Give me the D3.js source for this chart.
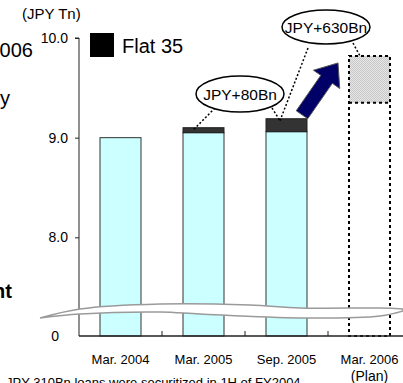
<!DOCTYPE html>
<html>
<head>
<meta charset="utf-8">
<script src="https://cdn.jsdelivr.net/npm/d3@7"></script>
<style>
  body { margin: 0; background: #fff; }
  svg { display: block; font-family: "Liberation Sans", Arial, sans-serif; }
</style>
</head>
<body>
<div id="chart"></div>
<script>
// data (JPY Tn)
const categories = ["Mar. 2004", "Mar. 2005", "Sep. 2005", "Mar. 2006"];
const baseValues = [9.0, 9.05, 9.06, 9.35];
const flat35Values = [0, 0.05, 0.13, 0.47];
const yTicks = [8, 9, 10];
const planIndex = 3;
const diffLabels = ["JPY+80Bn", "JPY+630Bn"];

const W = 403, H = 383;
const svg = d3.select("#chart").append("svg").attr("width", W).attr("height", H);

// axis scales (broken axis: the baseline "0" sits where 7.0 would be)
const x = d3.scaleBand().domain(categories).range([79, 411]).padding(0);
const y = d3.scaleLinear().domain([7, 10]).range([337, 38]);
const baseY = y(7) - 1;
const bw = 41;
const bx = d => x(d) + (x.bandwidth() - bw) / 2;

const data = categories.map((c, i) => ({
  cat: c, base: baseValues[i], flat: flat35Values[i], total: baseValues[i] + flat35Values[i]
}));

// pattern for the plan part
const defs = svg.append("defs");
const pat = defs.append("pattern").attr("id", "stip").attr("width", 2).attr("height", 2)
  .attr("patternUnits", "userSpaceOnUse");
pat.append("rect").attr("width", 2).attr("height", 2).attr("fill", "#e6e6e6");
pat.append("rect").attr("width", 1).attr("height", 1).attr("fill", "#c8c8c8");
pat.append("rect").attr("x", 1).attr("y", 1).attr("width", 1).attr("height", 1).attr("fill", "#c8c8c8");

// actual bars
const actual = data.filter((d, i) => i !== planIndex);
svg.selectAll(".bar-base").data(actual).join("rect")
  .attr("x", d => bx(d.cat)).attr("y", d => y(d.base))
  .attr("width", bw).attr("height", d => baseY - y(d.base))
  .attr("fill", "#ccffff").attr("stroke", "#333").attr("stroke-width", 1);
svg.selectAll(".bar-flat").data(actual.filter(d => d.flat > 0)).join("rect")
  .attr("x", d => bx(d.cat)).attr("y", d => y(d.total))
  .attr("width", bw).attr("height", d => y(d.base) - y(d.total))
  .attr("fill", "#333").attr("stroke", "#222").attr("stroke-width", 1);

// plan bar (dashed outline)
const p = data[planIndex];
svg.append("rect").attr("x", bx(p.cat)).attr("y", y(p.total))
  .attr("width", bw).attr("height", y(p.base) - y(p.total))
  .attr("fill", "url(#stip)");
svg.append("rect").attr("x", bx(p.cat)).attr("y", y(p.total))
  .attr("width", bw).attr("height", baseY - y(p.total))
  .attr("fill", "none").attr("stroke", "#000").attr("stroke-width", 2).attr("stroke-dasharray", "3,3");
svg.append("line").attr("x1", bx(p.cat)).attr("x2", bx(p.cat) + bw)
  .attr("y1", y(p.base)).attr("y2", y(p.base))
  .attr("stroke", "#000").attr("stroke-width", 2).attr("stroke-dasharray", "3,3");

// y axis
const yAxis = svg.append("g").attr("transform", "translate(79,0)")
  .call(d3.axisLeft(y).tickValues(yTicks).tickFormat(d3.format(".1f")).tickSize(4).tickPadding(7));
yAxis.select(".domain").attr("d", `M-4,${y(10)}H0V${baseY}`).attr("stroke", "#222");
yAxis.selectAll("text").style("font-size", "14px").attr("fill", "#000");
yAxis.selectAll(".tick line").attr("stroke", "#222");
svg.append("text").attr("x", 59).attr("y", baseY).attr("dy", "0.38em")
  .attr("text-anchor", "end").style("font-size", "14px").text("0");
svg.append("text").attr("x", 22).attr("y", 19).style("font-size", "15px").text("(JPY Tn)");

// x axis
svg.append("line").attr("x1", 79).attr("x2", W).attr("y1", baseY).attr("y2", baseY)
  .attr("stroke", "#222").attr("stroke-width", 1.5);
svg.selectAll(".xtick").data(categories.slice(0, -1)).join("line")
  .attr("x1", d => x(d) + x.step()).attr("x2", d => x(d) + x.step())
  .attr("y1", baseY).attr("y2", baseY - 5).attr("stroke", "#222");
svg.selectAll(".xlab").data(categories).join("text")
  .attr("x", d => x(d) + x.bandwidth() / 2).attr("y", 364)
  .attr("text-anchor", "middle").style("font-size", "13px").text(d => d);
svg.append("text").attr("x", x(p.cat) + x.bandwidth() / 2).attr("y", 381)
  .attr("text-anchor", "middle").style("font-size", "14px").text("(Plan)");

// axis break
const upper = [[40, 318], [80, 309], [160, 304], [250, 305], [300, 308], [380, 308], [403, 309]];
const lower = [[403, 311], [380, 316], [300, 318], [200, 314], [160, 312], [80, 314], [40, 318]];
const brk = d3.line().curve(d3.curveCatmullRom);
svg.append("path").attr("d", brk(upper) + "L" + brk(lower).slice(1) + "Z")
  .attr("fill", "#fff").attr("stroke", "#9a9a9a").attr("stroke-width", 1.5);

// legend
svg.append("rect").attr("x", 90).attr("y", 33).attr("width", 24).attr("height", 24).attr("fill", "#000");
svg.append("text").attr("x", 122).attr("y", 53).style("font-size", "20px").text("Flat 35");

// leader lines
const b2 = data[1], b3 = data[2];
const capMid = d => (y(d.base) + y(d.total)) / 2;
const leaders = [
  [[215, 108], [bx(b2.cat) + 10, capMid(b2)]],
  [[272, 108], [bx(b3.cat) + 14, y(b3.total) + 2]],
  [[308, 48], [bx(b3.cat) + 14, y(b3.total) + 2]],
  [[353, 43], [bx(p.cat) + 11, y(p.total)]]
];
svg.selectAll(".leader").data(leaders).join("line")
  .attr("x1", d => d[0][0]).attr("y1", d => d[0][1])
  .attr("x2", d => d[1][0]).attr("y2", d => d[1][1])
  .attr("stroke", "#000").attr("stroke-width", 1.5).attr("stroke-dasharray", "2,2");

// ellipses
const bubbles = [
  { cx: 240, cy: 94, rx: 44, ry: 18, t: diffLabels[0] },
  { cx: 326, cy: 27, rx: 44, ry: 17, t: diffLabels[1] }
];
svg.selectAll(".bub").data(bubbles).join("ellipse")
  .attr("cx", d => d.cx).attr("cy", d => d.cy).attr("rx", d => d.rx).attr("ry", d => d.ry)
  .attr("fill", "#fff").attr("stroke", "#000").attr("stroke-width", 1.5);
svg.selectAll(".bubt").data(bubbles).join("text")
  .attr("x", d => d.cx).attr("y", d => d.cy).attr("dy", "0.36em")
  .attr("text-anchor", "middle").style("font-size", "15.5px").text(d => d.t);

// block arrow from Sep. 2005 bar toward the plan
const B = [bx(b3.cat) + bw - 5, y(b3.total) - 4];
const T = [bx(p.cat) - 11, y(p.total) + 7];
const len = Math.hypot(T[0] - B[0], T[1] - B[1]);
const dv = [(T[0] - B[0]) / len, (T[1] - B[1]) / len];
const nv = [-dv[1], dv[0]];
const hl = 20, hw = 16, sw = 7;
const Hc = [T[0] - hl * dv[0], T[1] - hl * dv[1]];
const pt = (c, k) => [c[0] + k * nv[0], c[1] + k * nv[1]];
const arrow = [pt(B, -sw), pt(Hc, -sw), pt(Hc, -hw), T, pt(Hc, hw), pt(Hc, sw), pt(B, sw)];
svg.append("polygon").attr("points", arrow.map(q => q.join(",")).join(" "))
  .attr("fill", "#000066").attr("stroke", "#555").attr("stroke-width", 1);

// cropped slide text at the left edge and the footnote
svg.append("text").attr("x", 33).attr("y", 57).attr("text-anchor", "end").style("font-size", "20px").text("2006");
svg.append("text").attr("x", 10).attr("y", 105).attr("text-anchor", "end").style("font-size", "20px").text("y");
svg.append("text").attr("x", 12).attr("y", 298).attr("text-anchor", "end").style("font-size", "20px")
  .style("font-weight", "bold").text("nt");
svg.append("text").attr("x", 6).attr("y", 387).style("font-size", "13px")
  .text("JPY 310Bn loans were securitized in 1H of FY2004.");
</script>
</body>
</html>
